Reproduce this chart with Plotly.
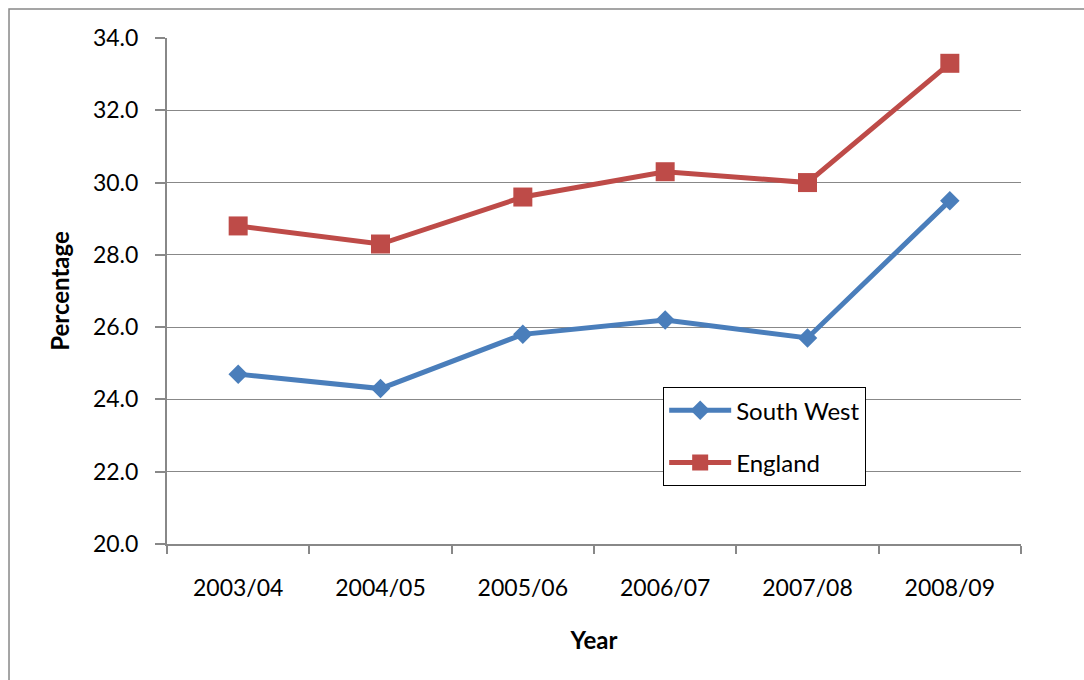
import plotly.graph_objects as go

years = ["2003/04", "2004/05", "2005/06", "2006/07", "2007/08", "2008/09"]
south_west = [24.7, 24.3, 25.8, 26.2, 25.7, 29.5]
england = [28.8, 28.3, 29.6, 30.3, 30.0, 33.3]
y_ticks = [20.0, 22.0, 24.0, 26.0, 28.0, 30.0, 32.0, 34.0]

FONT = "Lato, Open Sans, sans-serif"
GRID = "#888888"

fig = go.Figure()
fig.add_trace(go.Scatter(
    x=years, y=south_west, name="South West", mode="lines+markers",
    line=dict(color="#4A7EBB", width=5),
    marker=dict(symbol="diamond", size=15, color="#4A7EBB"),
    legendgroup="sw",
))
fig.add_trace(go.Scatter(
    x=years, y=england, name="England", mode="lines+markers",
    line=dict(color="#BE4B48", width=5),
    marker=dict(symbol="square", size=19, color="#BE4B48"),
    legendgroup="en",
))

# outer chart frame
fig.add_shape(type="rect", xref="paper", yref="paper",
              x0=-0.185, x1=1.09, y0=-0.29, y1=1.0573,
              line=dict(color="#888888", width=1.5), layer="below")

fig.update_layout(
    width=1084, height=680,
    margin=dict(l=167, r=63, t=38, b=136),
    paper_bgcolor="white", plot_bgcolor="white",
    font=dict(family=FONT, size=23, color="black"),
    showlegend=True,
    legend=dict(
        x=0.581, y=0.31, xanchor="left", yanchor="top",
        bordercolor="black", borderwidth=1, bgcolor="white",
        font=dict(family=FONT, size=24),
        tracegroupgap=18, traceorder="grouped", itemwidth=62,
    ),
    xaxis=dict(
        type="category", range=[-0.5, 5.5],
        tickson="boundaries", ticks="outside", ticklen=8, tickwidth=1.5,
        tickcolor=GRID, showline=True, linecolor=GRID, linewidth=1.5,
        showgrid=False, ticklabelstandoff=23,
        title=dict(text="<b>Year</b>", standoff=32, font=dict(size=24)),
    ),
    yaxis=dict(
        range=[20, 34], tickvals=y_ticks,
        ticktext=[f"{v:.1f}" for v in y_ticks],
        ticks="outside", ticklen=10, tickwidth=1.5, tickcolor=GRID,
        showline=True, linecolor=GRID, linewidth=2,
        showgrid=True, gridcolor=GRID, gridwidth=1,
        zeroline=False, ticklabelstandoff=12,
        title=dict(text="<b>Percentage</b>", standoff=17, font=dict(size=24)),
    ),
)

fig.write_html("out.html")
